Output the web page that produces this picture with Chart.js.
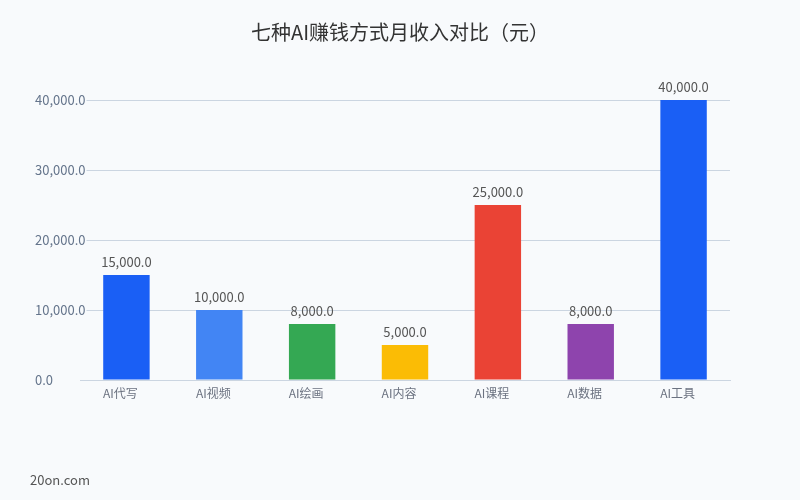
<html>
    <head>
        <script src="https://cdn.jsdelivr.net/npm/chart.js"></script>
        <style>
            body { margin: 0; background: #f8fafc; }
        </style>
    </head>
    <body>
        <div style="width: 800px; height: 500px">
            <canvas id="incomeChart" width="800" height="500"></canvas>
        </div>

        <script>
            const CATEGORIES = ['AI代写', 'AI视频', 'AI绘画', 'AI内容', 'AI课程', 'AI数据', 'AI工具']
            const INCOME = [15000, 10000, 8000, 5000, 25000, 8000, 40000]
            const Y_TICKS = [0, 10000, 20000, 30000, 40000]
            const BAR_COLORS = ['#1a5ff5', '#4285f4', '#34a853', '#fbbc05', '#ea4335', '#8e44ad', '#1a5ff5']
            const FONT = '"Noto Sans CJK SC", "Noto Sans", sans-serif'
            const BG = '#f8fafc'

            const fmt = (v) =>
                v.toLocaleString('en-US', { minimumFractionDigits: 1, maximumFractionDigits: 1 })

            // title, watermark, y tick labels (chart.js clips them) and value labels
            const extras = {
                id: 'extras',
                afterDatasetsDraw(chart) {
                    const ctx = chart.ctx
                    ctx.save()
                    ctx.fillStyle = '#333'
                    ctx.font = `20px ${FONT}`
                    ctx.textAlign = 'center'
                    ctx.textBaseline = 'middle'
                    ctx.fillText('七种AI赚钱方式月收入对比（元）', 400, 32)

                    ctx.font = `13px ${FONT}`
                    ctx.fillStyle = '#555'
                    ctx.textBaseline = 'bottom'
                    chart.getDatasetMeta(0).data.forEach((bar, i) => {
                        ctx.fillText(fmt(INCOME[i]), bar.x, bar.y - 6)
                    })

                    // y labels, left aligned, covering the grid line behind them
                    const y = chart.scales.y
                    ctx.textAlign = 'left'
                    ctx.textBaseline = 'middle'
                    Y_TICKS.forEach((v) => {
                        const py = y.getPixelForValue(v)
                        const label = fmt(v)
                        const w = ctx.measureText(label).width
                        if (v !== 0) {
                            ctx.fillStyle = BG
                            ctx.fillRect(34, py - 3, w + 2, 6)
                        }
                        ctx.fillStyle = '#64748b'
                        ctx.fillText(label, 35, py)
                    })

                    ctx.font = `13px ${FONT}`
                    ctx.fillStyle = '#555'
                    ctx.fillText('20on.com', 30, 480)
                    ctx.restore()
                },
            }

            new Chart(document.getElementById('incomeChart'), {
                type: 'bar',
                data: {
                    labels: CATEGORIES,
                    datasets: [
                        {
                            data: INCOME,
                            backgroundColor: BAR_COLORS,
                            barPercentage: 0.5,
                            categoryPercentage: 1,
                        },
                    ],
                },
                options: {
                    responsive: false,
                    animation: false,
                    layout: { padding: { top: 100, left: 34, right: 70, bottom: 0 } },
                    plugins: {
                        legend: { display: false },
                        title: { display: false },
                        tooltip: { enabled: false },
                    },
                    scales: {
                        x: {
                            grid: { display: false },
                            border: { color: '#cbd5e1' },
                            ticks: {
                                color: '#6b7280',
                                font: { family: FONT, size: 12 },
                                padding: -2,
                                labelOffset: -6,
                            },
                            afterFit: (s) => { s.height = 120 },
                        },
                        y: {
                            min: 0,
                            max: 40000,
                            border: { display: false },
                            grid: { color: '#cbd5e1', drawTicks: false },
                            ticks: {
                                stepSize: 10000,
                                display: false,
                            },
                            afterFit: (s) => { s.width = 46 },
                        },
                    },
                },
                plugins: [extras],
            })
        </script>
    </body>
</html>
